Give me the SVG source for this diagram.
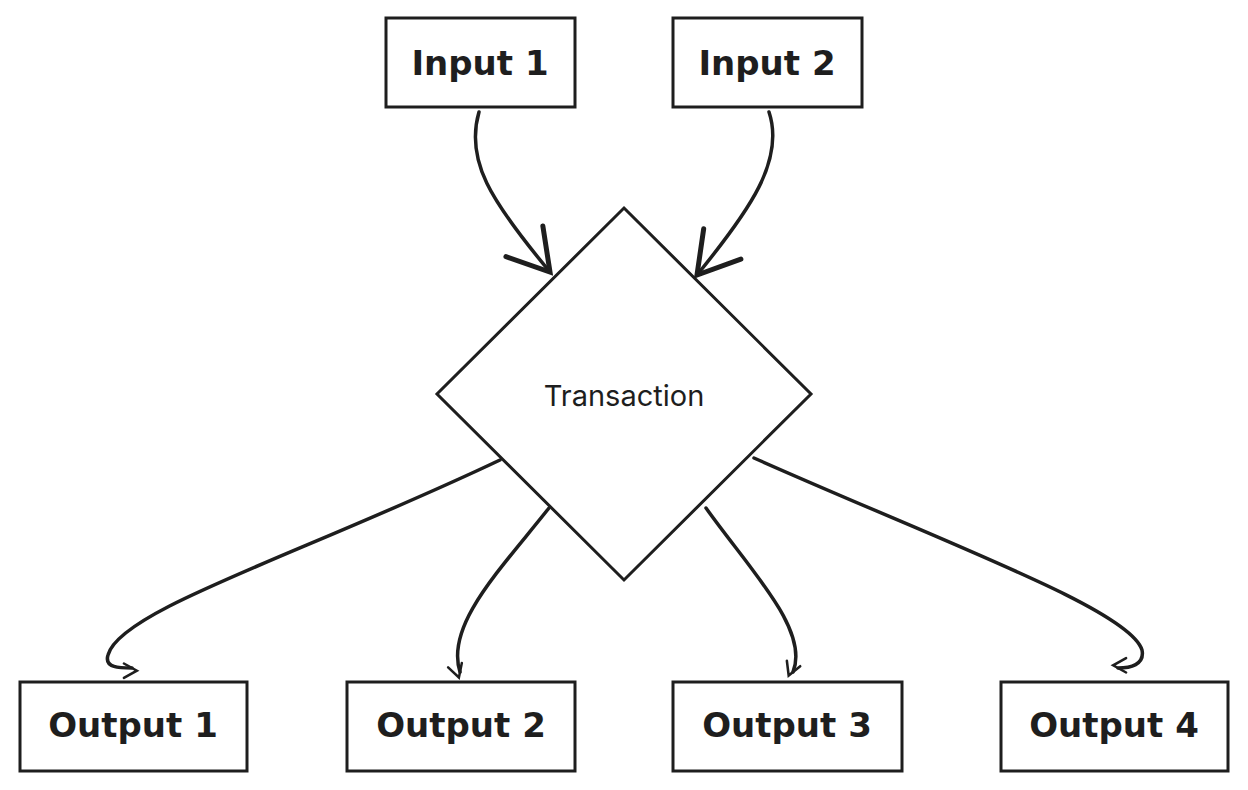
<svg xmlns="http://www.w3.org/2000/svg" width="1248" height="790" viewBox="0 0 1248 790">
<style>
.box{fill:#fff;stroke:#1e1e1e;stroke-width:3}
.lbl{font-family:"DejaVu Sans",sans-serif;font-size:34px;font-weight:bold;fill:#1e1e1e;text-anchor:middle;dominant-baseline:central}
.c{fill:none;stroke:#1e1e1e;stroke-width:3.5;stroke-linecap:round;stroke-linejoin:round}
</style>
<defs>
<marker id="ah" viewBox="0 0 20 20" refX="18" refY="10" markerWidth="9" markerHeight="9" markerUnits="userSpaceOnUse" orient="auto" overflow="visible">
<path d="M0,0 L18,10 L0,20" fill="none" stroke="#1e1e1e" stroke-width="3.5" stroke-linecap="round" transform="scale(1.6)"/>
</marker>
<marker id="ahL" viewBox="0 0 20 20" refX="18" refY="10" markerWidth="20" markerHeight="20" markerUnits="userSpaceOnUse" orient="auto" overflow="visible">
<path d="M-2,-2 L18,10 L-2,22" fill="none" stroke="#1e1e1e" stroke-width="2.5" stroke-linecap="round" transform="translate(-18,-10) scale(2) translate(0,0)"/>
</marker>
</defs>
<rect width="1248" height="790" fill="#fff"/>
<g id="input1"><rect class="box" x="386" y="18" width="189" height="89"/><text class="lbl" x="480" y="63">Input 1</text></g>
<g id="input2"><rect class="box" x="673" y="18" width="189" height="89"/><text class="lbl" x="767" y="63">Input 2</text></g>
<g id="transaction"><polygon class="box" points="624,208 811,394 624,580 437,394"/><text x="624" y="395" font-family="Inter,sans-serif" font-size="29" fill="#1e1e1e" text-anchor="middle" dominant-baseline="central">Transaction</text></g>
<g id="output1"><rect class="box" x="20" y="682" width="227" height="89"/><text class="lbl" x="133" y="725">Output 1</text></g>
<g id="output2"><rect class="box" x="347" y="682" width="228" height="89"/><text class="lbl" x="461" y="725">Output 2</text></g>
<g id="output3"><rect class="box" x="673" y="682" width="229" height="89"/><text class="lbl" x="787" y="725">Output 3</text></g>
<g id="output4"><rect class="box" x="1001" y="682" width="227" height="89"/><text class="lbl" x="1114" y="725">Output 4</text></g>
<g id="connectors">
<path class="c" marker-end="url(#ahL)" d="M479,112 C465,160 490,200 550,272"/>
<path class="c" marker-end="url(#ahL)" d="M769,112 C785,160 750,210 697,275"/>
<path class="c" marker-end="url(#ah)" d="M500,460 C300,555 120,610 108,655 C104,668 120,668 132,668"/>
<path class="c" marker-end="url(#ah)" d="M549,508 C500,570 445,625 460,672"/>
<path class="c" marker-end="url(#ah)" d="M706,508 C750,570 810,630 793,672"/>
<path class="c" marker-end="url(#ah)" d="M754,458 C950,545 1130,610 1142,650 C1145,665 1130,668 1118,668"/>
</g>
</svg>
